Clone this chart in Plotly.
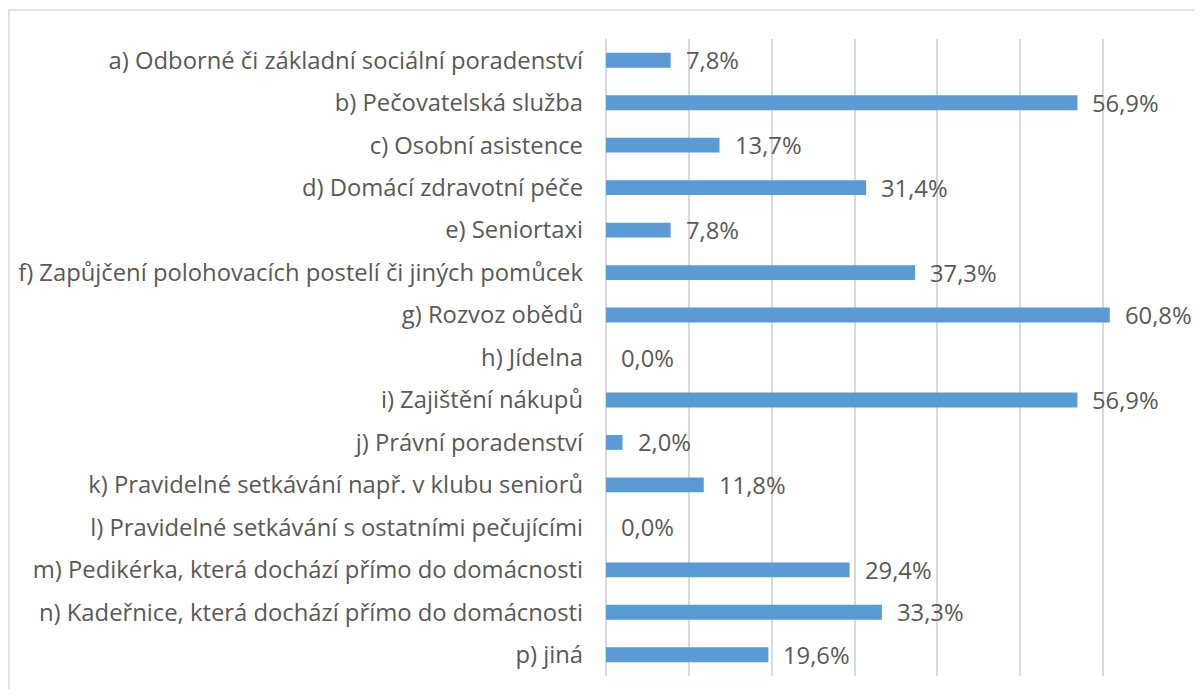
import plotly.graph_objects as go

categories = [
    "a) Odborné či základní sociální poradenství",
    "b) Pečovatelská služba",
    "c) Osobní asistence",
    "d) Domácí zdravotní péče",
    "e) Seniortaxi",
    "f) Zapůjčení polohovacích postelí či jiných pomůcek",
    "g) Rozvoz obědů",
    "h) Jídelna",
    "i) Zajištění nákupů",
    "j) Právní poradenství",
    "k) Pravidelné setkávání např. v klubu seniorů",
    "l) Pravidelné setkávání s ostatními pečujícími",
    "m) Pedikérka, která dochází přímo do domácnosti",
    "n) Kadeřnice, která dochází přímo do domácnosti",
    "p) jiná",
]
values = [0.078, 0.569, 0.137, 0.314, 0.078, 0.373, 0.608, 0.0, 0.569, 0.020,
          0.118, 0.0, 0.294, 0.333, 0.196]
labels = [f"{v*100:.1f}%".replace(".", ",") for v in values]

FONT = "Open Sans"
FS = 23.8
TXT = "#595959"
GRID = "#D9D9D9"

fig = go.Figure()
fig.add_trace(go.Bar(
    y=categories, x=values, orientation="h",
    marker=dict(color="#5B9BD5", line=dict(width=0)),
    hoverinfo="skip",
))

for c, v, t in zip(categories, values, labels):
    fig.add_annotation(x=v, y=c, text=t, xanchor="left", yanchor="middle",
                       xshift=13, showarrow=False,
                       font=dict(family=FONT, size=FS, color=TXT))

# the page body has an 8px margin; figure sits at (8, 8)
OFF = 8
W, H = 1186, 681
ml, mr, mt, mb = 606 - OFF, 8, 39 - OFF, 13
pw, ph = W - ml - mr, H - mt - mb
def px(xp): return (xp - OFF - ml) / pw
def py(yp): return (H - mb - (yp - OFF)) / ph
fig.add_shape(type="rect", xref="paper", yref="paper",
              x0=px(9), x1=px(1260), y0=py(10), y1=py(760),
              line=dict(color=GRID, width=1.5), fillcolor="rgba(0,0,0,0)", layer="below")

fig.update_layout(
    width=W, height=H,
    margin=dict(l=ml, r=mr, t=mt, b=mb, autoexpand=False),
    paper_bgcolor="white", plot_bgcolor="white",
    bargap=0.65,
    showlegend=False,
    xaxis=dict(range=[0, 0.7], dtick=0.1, showgrid=True, gridcolor=GRID, gridwidth=1.5,
               zeroline=True, zerolinecolor=GRID, zerolinewidth=1.5,
               showticklabels=False, showline=False, fixedrange=True, automargin=False),
    yaxis=dict(categoryorder="array", categoryarray=categories, autorange="reversed",
               tickfont=dict(family=FONT, size=FS, color=TXT), showgrid=False,
               showline=False, ticks="", ticklabelstandoff=22, fixedrange=True,
               automargin=False),
)

fig.write_html("out.html", config={"displayModeBar": False})
